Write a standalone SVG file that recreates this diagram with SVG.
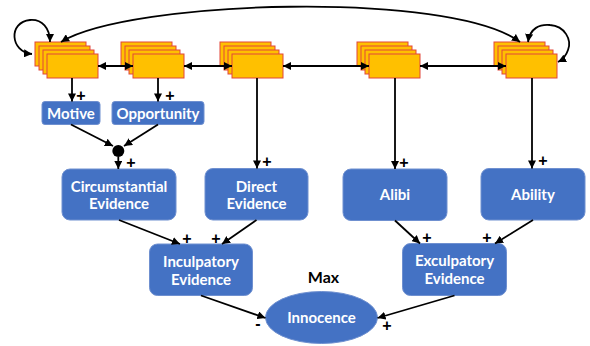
<svg xmlns="http://www.w3.org/2000/svg" width="590" height="346" viewBox="0 0 590 346">
<style>
.st{fill:#FFC000;stroke:#E2463A;stroke-width:1}
.bx{fill:#4472C4;stroke:#6F90D0;stroke-width:1}
.lb{font-family:Lato,"Open Sans",sans-serif;font-weight:700;font-size:15px;fill:#FFFFFF;text-anchor:middle}
.sg{font-family:"Liberation Sans",Arial,sans-serif;font-weight:700;font-size:16px;fill:#000;text-anchor:middle}
.ln{fill:none;stroke:#000;stroke-width:1.8}
.a2{marker-start:url(#ah);marker-end:url(#ah)}
.a1{marker-end:url(#ah)}
</style>
<defs>
<marker id="ah" viewBox="0 0 10 10" refX="10" refY="5" markerWidth="4.5" markerHeight="4.5" orient="auto-start-reverse" markerUnits="strokeWidth">
<path d="M0,0 L10,5 L0,10 z" fill="#000"/>
</marker>
</defs>
<g id="stack1">
<rect class="st" x="35" y="42" width="51" height="24"/>
<rect class="st" x="39" y="46" width="51" height="24"/>
<rect class="st" x="43" y="50" width="51" height="24"/>
<rect class="st" x="47" y="54" width="51" height="24"/>
</g>
<g id="stack2">
<rect class="st" x="121" y="42" width="51" height="24"/>
<rect class="st" x="125" y="46" width="51" height="24"/>
<rect class="st" x="129" y="50" width="51" height="24"/>
<rect class="st" x="133" y="54" width="51" height="24"/>
</g>
<g id="stack3">
<rect class="st" x="220" y="42" width="51" height="24"/>
<rect class="st" x="224" y="46" width="51" height="24"/>
<rect class="st" x="228" y="50" width="51" height="24"/>
<rect class="st" x="232" y="54" width="51" height="24"/>
</g>
<g id="stack4">
<rect class="st" x="357" y="42" width="51" height="24"/>
<rect class="st" x="361" y="46" width="51" height="24"/>
<rect class="st" x="365" y="50" width="51" height="24"/>
<rect class="st" x="369" y="54" width="51" height="24"/>
</g>
<g id="stack5">
<rect class="st" x="494" y="42" width="51" height="24"/>
<rect class="st" x="498" y="46" width="51" height="24"/>
<rect class="st" x="502" y="50" width="51" height="24"/>
<rect class="st" x="506" y="54" width="51" height="24"/>
</g>
<g id="motive">
<rect class="bx" x="42" y="101.5" width="58" height="23" rx="3"/>
<text class="lb" x="71" y="118.5">Motive</text>
</g>
<g id="opportunity">
<rect class="bx" x="112" y="101.5" width="92" height="23" rx="3"/>
<text class="lb" x="158" y="118.5">Opportunity</text>
</g>
<g id="junction">
<circle cx="118.3" cy="151" r="6" fill="#000"/>
</g>
<g id="circumstantial">
<rect class="bx" x="62" y="169" width="114" height="51" rx="8"/>
<text class="lb" x="119" y="191.5">Circumstantial</text>
<text class="lb" x="119" y="209">Evidence</text>
</g>
<g id="direct">
<rect class="bx" x="205" y="168.5" width="103" height="51.5" rx="8"/>
<text class="lb" x="256.5" y="191.5">Direct</text>
<text class="lb" x="256.5" y="209">Evidence</text>
</g>
<g id="alibi">
<rect class="bx" x="343" y="169" width="104" height="51.5" rx="8"/>
<text class="lb" x="395" y="200">Alibi</text>
</g>
<g id="ability">
<rect class="bx" x="481" y="168.5" width="104" height="51.5" rx="8"/>
<text class="lb" x="533" y="199.5">Ability</text>
</g>
<g id="inculpatory">
<rect class="bx" x="149.5" y="244" width="103" height="51.5" rx="8"/>
<text class="lb" x="201" y="266.5">Inculpatory</text>
<text class="lb" x="201" y="284.5">Evidence</text>
</g>
<g id="exculpatory">
<rect class="bx" x="402.5" y="243.5" width="104" height="52" rx="8"/>
<text class="lb" x="454.5" y="266">Exculpatory</text>
<text class="lb" x="454.5" y="284">Evidence</text>
</g>
<g id="innocence">
<ellipse class="bx" cx="321.5" cy="317.5" rx="56" ry="26"/>
<text class="lb" x="321.5" y="323">Innocence</text>
<text class="lb" x="323.5" y="283.3" style="fill:#000;font-size:16px">Max</text>
</g>
<g id="connectors">
<path class="ln a2" d="M61,42 C130,0 450,-10 520,42"/>
<path class="ln a2" d="M32,54 C10,52 8,22 30,20 C42,19 50,28 50,42"/>
<path class="ln a2" d="M528,42 C530,28 540,24 550,25 C565,26 572,40 568,50 C566,56 562,60 558,62"/>
<path class="ln a2" d="M98,66 H133"/>
<path class="ln a2" d="M184,66 H232"/>
<path class="ln a2" d="M283,66 H369"/>
<path class="ln a2" d="M420,66 H506"/>
<path class="ln a1" d="M72,78 V101.5"/>
<path class="ln a1" d="M158,78 V101.5"/>
<path class="ln a1" d="M257,78 V168.5"/>
<path class="ln a1" d="M395,78 V169"/>
<path class="ln a1" d="M532,78 V168.5"/>
<path class="ln a1" d="M71,124.5 L113,146"/>
<path class="ln a1" d="M158,124.5 L124,146"/>
<path class="ln a1" d="M118.3,157 V169"/>
<path class="ln a1" d="M119,220 L180,244"/>
<path class="ln a1" d="M256.5,220 L222,244"/>
<path class="ln a1" d="M395,220.5 L420,243.5"/>
<path class="ln a1" d="M533,220 L495,243.5"/>
<path class="ln a1" d="M201,295.5 L265.5,318"/>
<path class="ln a1" d="M454.5,295.5 L377.5,318"/>
<text class="sg" x="81" y="100.5">+</text>
<text class="sg" x="170" y="100.5">+</text>
<text class="sg" x="267" y="166.5">+</text>
<text class="sg" x="404" y="167.5">+</text>
<text class="sg" x="543" y="165.5">+</text>
<text class="sg" x="131" y="167.5">+</text>
<text class="sg" x="187" y="243.5">+</text>
<text class="sg" x="216" y="243.5">+</text>
<text class="sg" x="427" y="242.5">+</text>
<text class="sg" x="487" y="242.5">+</text>
<text class="sg" x="387" y="330.5">+</text>
<text class="sg" x="258" y="328.5">-</text>
</g>
</svg>
